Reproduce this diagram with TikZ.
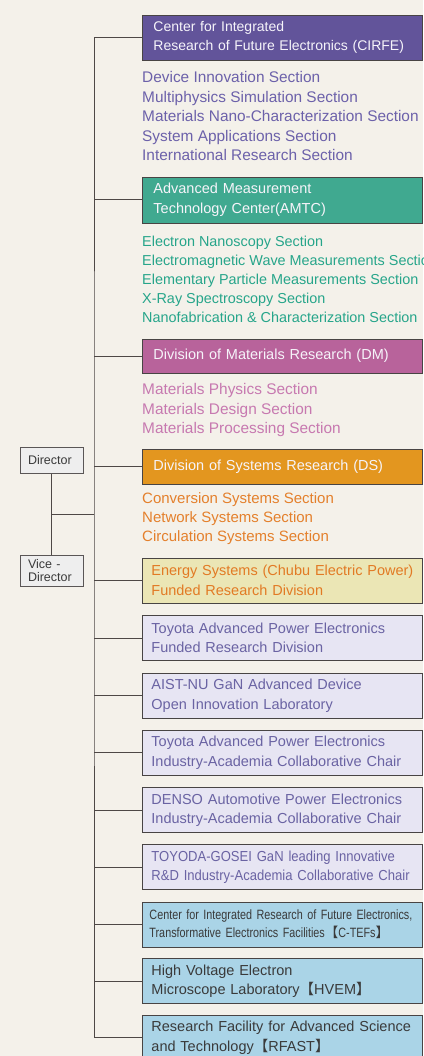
\documentclass[tikz,border=0pt]{standalone}
\usepackage{fontspec}
\setmainfont{Liberation Sans}
\newfontfamily\narrowfont{Liberation Sans}[FakeStretch=0.8]
\newfontfamily\tightfont{Liberation Sans}[FakeStretch=0.9]
\newfontfamily\cjk{Noto Sans CJK JP}
\newcommand{\lbk}{{\cjk 【}}
\newcommand{\rbk}{{\cjk 】}}
\definecolor{bg}{RGB}{244,241,234}
\definecolor{edge}{RGB}{72,68,68}
\definecolor{wirec}{RGB}{78,72,70}
\definecolor{headtxt}{RGB}{246,244,250}
\definecolor{cirfefill}{RGB}{98,84,154}
\definecolor{cirfetxt}{RGB}{108,97,170}
\definecolor{amtcfill}{RGB}{64,169,144}
\definecolor{amtctxt}{RGB}{38,165,138}
\definecolor{dmfill}{RGB}{184,99,155}
\definecolor{dmtxt}{RGB}{199,121,176}
\definecolor{dsfill}{RGB}{227,150,31}
\definecolor{dstxt}{RGB}{228,128,44}
\definecolor{energyfill}{RGB}{235,230,181}
\definecolor{energytxt}{RGB}{226,122,36}
\definecolor{lavfill}{RGB}{231,229,243}
\definecolor{lavtxt}{RGB}{106,99,163}
\definecolor{bluefill}{RGB}{170,212,231}
\definecolor{bluetxt}{RGB}{58,58,58}
\definecolor{bossfill}{RGB}{238,238,238}
\definecolor{bossedge}{RGB}{90,86,86}
\begin{document}
\begin{tikzpicture}[x=1pt,y=-1pt,
    unit/.style={draw=edge, line width=0.9pt, anchor=west, minimum height=45pt, inner xsep=9pt, text width=262pt, align=left, font=\fontsize{14.5}{19.5}\selectfont},
    head/.style={unit, inner xsep=11pt, text width=258pt, text=headtxt},
    lav/.style={unit, fill=lavfill, text=lavtxt},
    blue/.style={unit, fill=bluefill, text=bluetxt},
    sec/.style={anchor=north west, inner sep=0pt, align=left, font=\fontsize{15.4}{19.4}\selectfont},
    boss/.style={draw=bossedge, fill=bossfill, line width=1pt, inner xsep=8pt, text width=47pt, align=left, text=bluetxt, font=\fontsize{12.5}{12.5}\selectfont},
    wire/.style={draw=wirec, line width=1pt}]
\fill[bg](0,0)rectangle(423,1056);
\useasboundingbox(0,0)rectangle(423,1056);
\node[head, fill=cirfefill, font=\fontsize{14}{19.5}\selectfont](cirfe) at (142,37.5){Center for Integrated\\Research of Future Electronics (CIRFE)};
\node[sec, text=cirfetxt](cirfesec) at (142,71.5){Device Innovation Section\\Multiphysics Simulation Section\\Materials Nano-Characterization Section\\System Applications Section\\International Research Section};
\node[head, fill=amtcfill, minimum height=46pt](amtc) at (142,200){Advanced Measurement\\Technology Center(AMTC)};
\node[sec, text=amtctxt, font=\fontsize{14.4}{19.2}\selectfont](amtcsec) at (142,235.5){Electron Nanoscopy Section\\Electromagnetic Wave Measurements Section\\Elementary Particle Measurements Section\\X-Ray Spectroscopy Section\\Nanofabrication \& Characterization Section};
\node[head, fill=dmfill, minimum height=34pt](dm) at (142,356){Division of Materials Research (DM)};
\node[sec, text=dmtxt](dmsec) at (142,383.5){Materials Physics Section\\Materials Design Section\\Materials Processing Section};
\node[head, fill=dsfill, minimum height=35pt](ds) at (142,466.5){Division of Systems Research (DS)};
\node[sec, text=dstxt, font=\fontsize{15}{19.4}\selectfont](dssec) at (142,492){Conversion Systems Section\\Network Systems Section\\Circulation Systems Section};
\node[unit, fill=energyfill, text=energytxt](energy) at (142,580.5){Energy Systems (Chubu Electric Power)\\Funded Research Division};
\node[lav](tfund) at (142,638){Toyota Advanced Power Electronics\\Funded Research Division};
\node[lav](aist) at (142,695.5){AIST-NU GaN Advanced Device\\Open Innovation Laboratory};
\node[lav](tchair) at (142,752.5){Toyota Advanced Power Electronics\\Industry-Academia Collaborative Chair};
\node[lav](denso) at (142,810){DENSO Automotive Power Electronics\\Industry-Academia Collaborative Chair};
\node[lav, font=\tightfont\fontsize{14.5}{19.5}\selectfont](gosei) at (142,867){TOYODA-GOSEI GaN leading Innovative\\R\&D Industry-Academia Collaborative Chair};
\node[blue, inner xsep=7pt, text width=266pt, font=\narrowfont\fontsize{13.5}{18}\selectfont](ctefs) at (142,924.5){Center for Integrated Research of Future Electronics,\\Transformative Electronics Facilities\lbk C-TEFs\rbk};
\node[blue](hvem) at (142,981){High Voltage Electron\\Microscope Laboratory\lbk HVEM\rbk};
\node[blue](rfast) at (142,1037.5){Research Facility for Advanced Science\\and Technology\lbk RFAST\rbk};
\node[boss, minimum height=26pt](director) at (51.5,460){Director};
\node[boss, minimum height=31pt](vice) at (51.5,570.5){Vice -\\Director};
\coordinate(trunk) at (94,500);
\draw[wire](cirfe.west)-|(trunk)|-(rfast.west);
\foreach \b in {amtc,dm,ds,energy,tfund,aist,tchair,denso,gosei,ctefs,hvem}
    \draw[wire](\b.west)--(\b.west-|trunk);
\draw[wire](director)--coordinate(dv)(vice);
\draw[wire](dv)--(dv-|trunk);
\end{tikzpicture}
\end{document}
